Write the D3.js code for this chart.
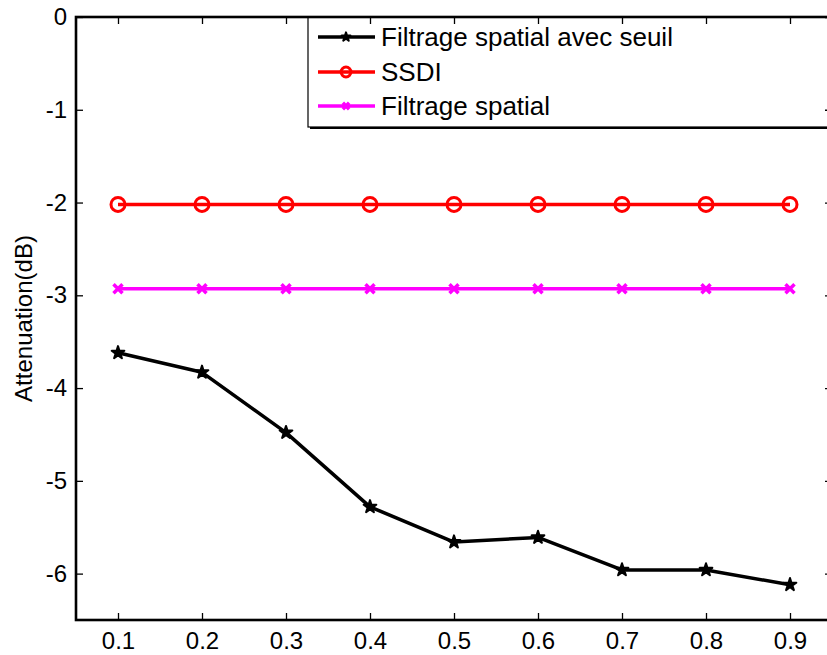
<!DOCTYPE html>
<html>
<head>
<meta charset="utf-8">
<script src="https://cdn.jsdelivr.net/npm/d3@7"></script>
<style>
  body { margin: 0; background: #fff; }
  svg { display: block; font-family: Arial, "Liberation Sans", sans-serif; }
</style>
</head>
<body>
<script>
// values
const xValues = [0.1, 0.2, 0.3, 0.4, 0.5, 0.6, 0.7, 0.8, 0.9];
const seuilValues = [-3.62, -3.83, -4.48, -5.28, -5.66, -5.61, -5.96, -5.96, -6.12];
const ssdiValues = [-2.02, -2.02, -2.02, -2.02, -2.02, -2.02, -2.02, -2.02, -2.02];
const spatialValues = [-2.93, -2.93, -2.93, -2.93, -2.93, -2.93, -2.93, -2.93, -2.93];
const xTicks = [0.1, 0.2, 0.3, 0.4, 0.5, 0.6, 0.7, 0.8, 0.9];
const yTicks = [0, -1, -2, -3, -4, -5, -6];
const seriesNames = ["Filtrage spatial avec seuil", "SSDI", "Filtrage spatial"];

const width = 827, height = 655;
const margin = {top: 17, right: -5, bottom: 35, left: 76};
const fontFamily = "Arial, 'Liberation Sans', sans-serif";

const x = d3.scaleLinear().domain([0.05, 0.95]).range([margin.left, width - margin.right]);
const y = d3.scaleLinear().domain([-6.5, 0]).range([height - margin.bottom, margin.top]);

const svg = d3.select("body").append("svg")
    .attr("width", width)
    .attr("height", height);

const series = [
  {name: seriesNames[0], values: seuilValues, color: "#000000", marker: "star"},
  {name: seriesNames[1], values: ssdiValues, color: "#ff0000", marker: "circle"},
  {name: seriesNames[2], values: spatialValues, color: "#ff00ff", marker: "cross"}
];

const line = d3.line()
    .x((d, i) => x(xValues[i]))
    .y(d => y(d));

function drawMarker(g, type, color, s) {
  if (type === "star") {
    g.append("path")
        .attr("d", d3.symbol(d3.symbolStar, 50 * s * s)())
        .attr("fill", color)
        .attr("stroke", color)
        .attr("stroke-width", 2)
        .attr("stroke-linejoin", "round");
  } else if (type === "circle") {
    g.append("circle")
        .attr("r", 7 * s)
        .attr("fill", "none")
        .attr("stroke", color)
        .attr("stroke-width", 3);
  } else {
    const r = 4.5 * s;
    g.append("path")
        .attr("d", `M${-r},${-r}L${r},${r}M${-r},${r}L${r},${-r}`)
        .attr("stroke", color)
        .attr("stroke-width", 3.5);
  }
}

// series lines and markers
series.forEach(sr => {
  svg.append("path")
      .datum(sr.values)
      .attr("fill", "none")
      .attr("stroke", sr.color)
      .attr("stroke-width", 3.5)
      .attr("stroke-linejoin", "round")
      .attr("d", line);

  sr.values.forEach((v, i) => {
    const g = svg.append("g")
        .attr("transform", `translate(${x(xValues[i])},${y(v)})`);
    drawMarker(g, sr.marker, sr.color, 1);
  });
});

// legend
const legend = svg.append("g");
legend.append("rect")
    .attr("x", 310).attr("y", 19)
    .attr("width", 540).attr("height", 110)
    .attr("fill", "#000");
legend.append("rect")
    .attr("x", 308).attr("y", 17)
    .attr("width", 540).attr("height", 110)
    .attr("fill", "#fff")
    .attr("stroke", "#000")
    .attr("stroke-width", 1.2);

const rowY = [37, 72, 106];
series.forEach((sr, i) => {
  const g = legend.append("g").attr("transform", `translate(0,${rowY[i]})`);
  g.append("line")
      .attr("x1", 318).attr("x2", 375)
      .attr("stroke", sr.color)
      .attr("stroke-width", 3.5);
  const m = g.append("g").attr("transform", "translate(346,0)");
  drawMarker(m, sr.marker, sr.color, 0.7);
  g.append("text")
      .attr("x", 381)
      .attr("dy", "0.35em")
      .attr("font-size", 26)
      .attr("fill", "#000")
      .text(sr.name);
});

// axes box
const axes = svg.append("g");
const tickLen = 7;
const yFormat = d => String(d);

axes.append("g")
    .attr("transform", `translate(0,${y(-6.5)})`)
    .call(d3.axisBottom(x).tickValues(xTicks).tickSizeInner(-tickLen).tickSizeOuter(0).tickPadding(12).tickFormat(d3.format(".1f")))
    .call(g => g.select(".domain").remove())
    .call(g => g.selectAll("line").attr("stroke-width", 1.3))
    .call(g => g.selectAll("text").attr("font-size", 24).attr("font-family", fontFamily).attr("fill", "#000"));

axes.append("g")
    .attr("transform", `translate(0,${y(0)})`)
    .call(d3.axisTop(x).tickValues(xTicks).tickSizeInner(-tickLen).tickSizeOuter(0).tickFormat(""))
    .call(g => g.select(".domain").remove())
    .call(g => g.selectAll("line").attr("stroke-width", 1.3));

axes.append("g")
    .attr("transform", `translate(${x(0.05)},0)`)
    .call(d3.axisLeft(y).tickValues(yTicks).tickSizeInner(-tickLen).tickSizeOuter(0).tickPadding(9).tickFormat(yFormat))
    .call(g => g.select(".domain").remove())
    .call(g => g.selectAll("line").attr("stroke-width", 1.3))
    .call(g => g.selectAll("text").attr("font-size", 24).attr("font-family", fontFamily).attr("fill", "#000"));

axes.append("g")
    .attr("transform", `translate(${x(0.95)},0)`)
    .call(d3.axisRight(y).tickValues(yTicks).tickSizeInner(-tickLen).tickSizeOuter(0).tickFormat(""))
    .call(g => g.select(".domain").remove())
    .call(g => g.selectAll("line").attr("stroke-width", 1.3));

axes.append("rect")
    .attr("x", x(0.05)).attr("y", y(0))
    .attr("width", x(0.95) - x(0.05))
    .attr("height", y(-6.5) - y(0))
    .attr("fill", "none")
    .attr("stroke", "#000")
    .attr("stroke-width", 2.6);

// y label
svg.append("text")
    .attr("transform", `translate(32,${(y(0) + y(-6.5)) / 2}) rotate(-90)`)
    .attr("text-anchor", "middle")
    .attr("font-size", 24)
    .text("Attenuation(dB)");
</script>
</body>
</html>
